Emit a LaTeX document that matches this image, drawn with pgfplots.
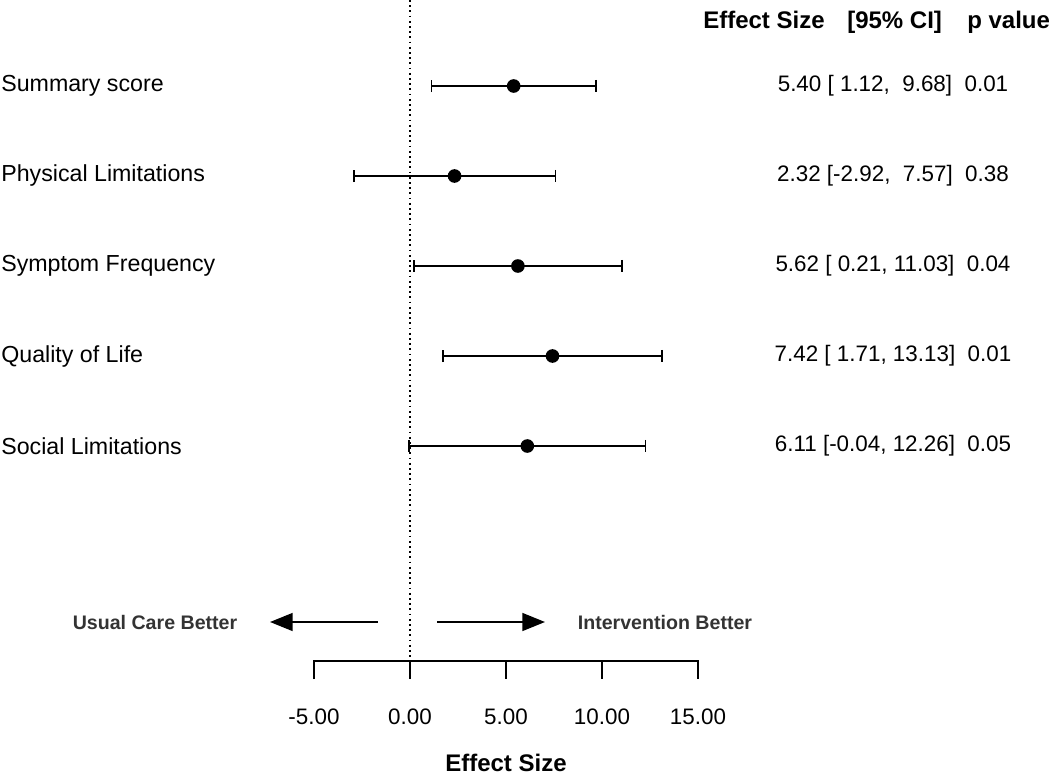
\documentclass[border=0pt]{standalone}
\usepackage{pgfplots}
\pgfplotsset{compat=1.18}
\usepackage{pgfplotstable}
\usepackage{fontspec}
\setmainfont{Liberation Sans}
\usetikzlibrary{arrows.meta}

\pgfplotstableread{
est y em ep
5.40 86 4.28 4.28
2.32 176 5.24 5.25
5.62 266 5.41 5.41
7.42 356 5.71 5.71
6.11 446 6.15 6.15
}\esttable

\newcommand{\lab}{\fontsize{17.4}{20}\selectfont}
\newcommand{\num}{\fontsize{16.8}{20}\selectfont}
\newcommand{\hdr}{\fontsize{18}{21}\selectfont\bfseries}
\newcommand{\arr}{\fontsize{14.7}{18}\selectfont\bfseries}
\definecolor{arrgray}{HTML}{333333}

\begin{document}
\begin{tikzpicture}
\begin{axis}[
  width=787.5pt, height=583.5pt, scale only axis,
  xmin=-21.3542, xmax=33.3333,
  ymin=0, ymax=778, y dir=reverse,
  hide axis, clip=false,
]
% reference line
\addplot[black, line width=1pt, dash pattern=on 1.3pt off 2.6pt] coordinates {(0,0) (0,661)};

% scale
\addplot[black, line width=1.1pt] coordinates {(-5,679) (-5,661) (15,661) (15,679)};
\addplot[black, line width=1.1pt] coordinates {(0,661) (0,679)};
\addplot[black, line width=1.1pt] coordinates {(5,661) (5,679)};
\addplot[black, line width=1.1pt] coordinates {(10,661) (10,679)};

% estimates with CIs
\addplot[black, only marks, mark=*, mark size=4.5pt, line width=1.2pt,
  error bars/.cd, x dir=both, x explicit,
  error bar style={line width=1.2pt, black},
  error mark options={black, line width=1.2pt, mark size=4.6pt, rotate=90}]
  table[x=est, y=y, x error plus=ep, x error minus=em] {\esttable};

% arrows
\addplot[black, line width=1.1pt, -{Triangle[length=17pt,width=13.5pt]}] coordinates {(-1.67,622) (-7.29,622)};
\addplot[black, line width=1.1pt, -{Triangle[length=17pt,width=13.5pt]}] coordinates {(1.41,622) (7.03,622)};

% row labels
\node[anchor=west, font=\lab, inner sep=0pt] at (axis cs:-21.30,86) {Summary score};
\node[anchor=west, font=\lab, inner sep=0pt] at (axis cs:-21.30,176) {Physical Limitations};
\node[anchor=west, font=\lab, inner sep=0pt] at (axis cs:-21.30,266) {Symptom Frequency};
\node[anchor=west, font=\lab, inner sep=0pt] at (axis cs:-21.30,356) {Quality of Life};
\node[anchor=west, font=\lab, inner sep=0pt] at (axis cs:-21.30,446) {Social Limitations};

% header
\node[anchor=base west, font=\hdr, inner sep=0pt] at (axis cs:15.26,28) {Effect Size};
\node[anchor=base west, font=\hdr, inner sep=0pt] at (axis cs:22.76,28) {[95\% CI]};
\node[anchor=base west, font=\hdr, inner sep=0pt] at (axis cs:29.01,28) {p value};

% right column
\node[font=\num, inner sep=0pt] at (axis cs:25.156,86) {5.40 [\ 1.12,\ \ 9.68]\ \ 0.01};
\node[font=\num, inner sep=0pt] at (axis cs:25.156,176) {2.32 [-2.92,\ \ 7.57]\ \ 0.38};
\node[font=\num, inner sep=0pt] at (axis cs:25.156,266) {5.62 [\ 0.21, 11.03]\ \ 0.04};
\node[font=\num, inner sep=0pt] at (axis cs:25.156,356) {7.42 [\ 1.71, 13.13]\ \ 0.01};
\node[font=\num, inner sep=0pt] at (axis cs:25.156,446) {6.11 [-0.04, 12.26]\ \ 0.05};

% arrow labels
\node[font=\arr, text=arrgray, inner sep=0pt] at (axis cs:-13.28,622) {Usual Care Better};
\node[font=\arr, text=arrgray, inner sep=0pt] at (axis cs:13.28,622) {Intervention Better};

% tick labels
\node[font=\num, inner sep=0pt] at (axis cs:-5,717) {-5.00};
\node[font=\num, inner sep=0pt] at (axis cs:0,717) {0.00};
\node[font=\num, inner sep=0pt] at (axis cs:5,717) {5.00};
\node[font=\num, inner sep=0pt] at (axis cs:10,717) {10.00};
\node[font=\num, inner sep=0pt] at (axis cs:15,717) {15.00};

% x label
\node[anchor=base, font=\hdr, inner sep=0pt] at (axis cs:5,771) {Effect Size};
\end{axis}
\pgfresetboundingbox
\path (current axis.south west) rectangle (current axis.north east);
\end{tikzpicture}
\end{document}
